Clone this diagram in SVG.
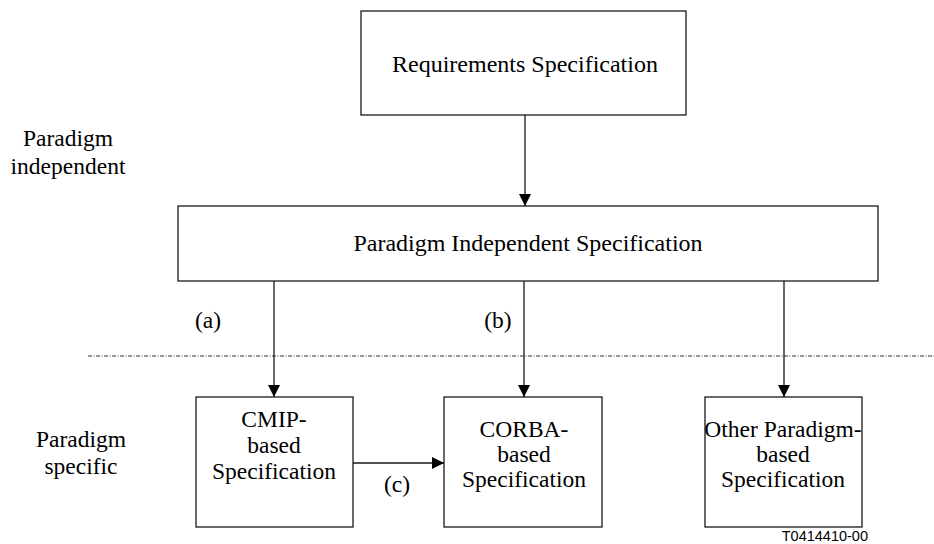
<svg xmlns="http://www.w3.org/2000/svg" width="934" height="544" viewBox="0 0 934 544">
  <style>
    .box { fill: #ffffff; stroke: #1a1a1a; stroke-width: 1.3; }
    .lbl { font-family: "Liberation Serif", "Times New Roman", serif; font-size: 23.5px; fill: #000; text-anchor: middle; }
    .big { font-size: 24px; }
    .edge { stroke: #1a1a1a; stroke-width: 1.3; fill: none; marker-end: url(#arrow); }
    .sep { stroke: #333; stroke-width: 1; stroke-dasharray: 4 1.5 1 1.5; }
    .code { font-family: "Liberation Sans", Arial, sans-serif; font-size: 14.5px; fill: #000; text-anchor: end; }
  </style>
  <defs>
    <marker id="arrow" viewBox="0 0 12 12" refX="12" refY="6" markerWidth="12" markerHeight="12" markerUnits="userSpaceOnUse" orient="auto">
      <path d="M0,0 L12,6 L0,12 Z" fill="#000"/>
    </marker>
  </defs>
  <rect width="934" height="544" fill="#ffffff"/>

  <!-- side labels -->
  <g id="label-independent">
    <text class="lbl" x="68" y="146">Paradigm</text>
    <text class="lbl" x="68" y="174">independent</text>
  </g>
  <g id="label-specific">
    <text class="lbl" x="81" y="447">Paradigm</text>
    <text class="lbl" x="81" y="474">specific</text>
  </g>

  <!-- boundary between the two layers -->
  <line class="sep" x1="88" y1="356" x2="934" y2="356"/>

  <g id="requirements">
    <rect class="box" x="361" y="11" width="325" height="104"/>
    <text class="lbl big" x="525" y="72">Requirements Specification</text>
  </g>

  <g id="independent-spec">
    <rect class="box" x="178" y="206" width="700" height="75"/>
    <text class="lbl big" x="528" y="251">Paradigm Independent Specification</text>
  </g>

  <g id="cmip">
    <rect class="box" x="196" y="397" width="157" height="130"/>
    <text class="lbl" x="274" y="427">CMIP-</text>
    <text class="lbl" x="274" y="453">based</text>
    <text class="lbl" x="274" y="479">Specification</text>
  </g>

  <g id="corba">
    <rect class="box" x="444" y="397" width="158" height="130"/>
    <text class="lbl" x="524" y="437">CORBA-</text>
    <text class="lbl" x="524" y="462">based</text>
    <text class="lbl" x="524" y="487">Specification</text>
  </g>

  <g id="other">
    <rect class="box" x="705" y="397" width="157" height="130"/>
    <text class="lbl" x="783" y="437">Other Paradigm-</text>
    <text class="lbl" x="783" y="462">based</text>
    <text class="lbl" x="783" y="487">Specification</text>
  </g>

  <g id="connectors">
    <line class="edge" x1="525" y1="115" x2="525" y2="206"/>
    <line class="edge" x1="274" y1="281" x2="274" y2="397"/>
    <line class="edge" x1="524" y1="281" x2="524" y2="397"/>
    <line class="edge" x1="784" y1="281" x2="784" y2="397"/>
    <line class="edge" x1="353" y1="463" x2="444" y2="463"/>
    <text class="lbl" x="208" y="328">(a)</text>
    <text class="lbl" x="498" y="328">(b)</text>
    <text class="lbl" x="397" y="492">(c)</text>
  </g>

  <text class="code" x="868" y="541">T0414410-00</text>
</svg>
